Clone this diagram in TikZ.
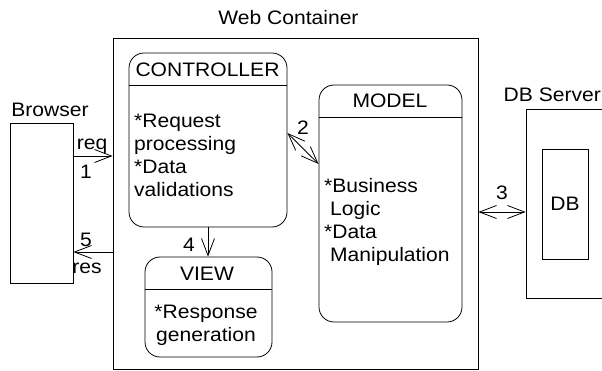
\documentclass[tikz,border=0pt]{standalone}
\usepackage{fontspec}
\setmainfont[FakeStretch=1.08]{Liberation Sans}
\usetikzlibrary{arrows.meta}

\tikzset{
  unit/.style={draw, line width=0.8pt, rounded corners=15pt, inner sep=0pt},
  plain/.style={draw, line width=0.8pt, inner sep=0pt},
  barb/.tip={Straight Barb[length=17pt, width=13pt, line width=0.8pt]},
  arr/.style={line width=0.8pt, -barb},
  dblarr/.style={line width=0.8pt, barb-barb},
  txt/.style={inner sep=0pt, anchor=base},
  body/.style={inner sep=0pt, anchor=north west, align=left},
}

\begin{document}
\begin{tikzpicture}[x=1pt, y=-1pt, every node/.style={font=\fontsize{19.5}{23}\selectfont}]
  \useasboundingbox (0,0) rectangle (602,371);

  %%%%% boxes %%%%%
  \node[plain, minimum width=365pt, minimum height=331pt] (web) at (295.5,203.5) {};
  \node[txt] (webtitle) at (288.5,25) {Web Container};

  \node[plain, minimum width=63pt, minimum height=160pt] (browser) at (41.5,203) {};
  \node[txt] (browsertitle) at (50,117) {Browser};

  \node[unit, minimum width=158pt, minimum height=174pt] (ctrl) at (208,140) {};
  \draw[line width=0.8pt] ([yshift=-33pt]ctrl.north west) -- ([yshift=-33pt]ctrl.north east);
  \node[txt] (ctrltitle) at (207.5,77) {CONTROLLER};
  \node[body] (ctrltext) at (134,114) {*Request\\processing\\*Data\\validations};

  \node[unit, minimum width=127pt, minimum height=100pt] (view) at (208.5,307) {};
  \draw[line width=0.8pt] ([yshift=-33pt]view.north west) -- ([yshift=-33pt]view.north east);
  \node[txt] (viewtitle) at (207,280) {VIEW};
  \node[body, anchor=north, align=center] (viewtext) at (206,305) {*Response\\generation};

  \node[unit, minimum width=143pt, minimum height=237pt] (model) at (390.5,203.5) {};
  \draw[line width=0.8pt] ([yshift=-33pt]model.north west) -- ([yshift=-33pt]model.north east);
  \node[txt] (modeltitle) at (390,108) {MODEL};
  \node[body] (modeltext) at (324,178) {*Business\\\hspace*{6pt}Logic\\*Data\\\hspace*{6pt}Manipulation};

  \node[plain, minimum width=86pt, minimum height=189pt] (dbsrv) at (569,203.5) {};
  \node[txt, anchor=base east] (dbsrvtitle) at (601,102) {DB Server};
  \node[plain, minimum width=46pt, minimum height=110pt] (db) at (565,204) {};
  \node[txt] (dbtitle) at (565,211) {DB};

  %%%%% arrows %%%%%
  \draw[arr] ([yshift=47pt]browser.east) -- ([yshift=47pt]browser.east -| web.west);
  \node[txt] (req) at (92,150) {req};
  \node[txt] (one) at (86,179) {1};

  \draw[arr] ([yshift=-49pt]browser.east -| web.west) -- ([yshift=-49pt]browser.east);
  \node[txt] (five) at (86,247) {5};
  \node[txt] (res) at (87,273) {res};

  \draw[dblarr] ([yshift=7pt]ctrl.east) -- ([yshift=39.5pt]model.west);
  \node[txt] (two) at (303,135) {2};

  \draw[arr] (ctrl.south) -- (ctrl.south |- view.north);
  \node[txt] (four) at (189,252) {4};

  \draw[dblarr] ([yshift=-8.5pt]web.east) -- ([yshift=-8.5pt]dbsrv.west);
  \node[txt] (three) at (502,200) {3};
\end{tikzpicture}
\end{document}
